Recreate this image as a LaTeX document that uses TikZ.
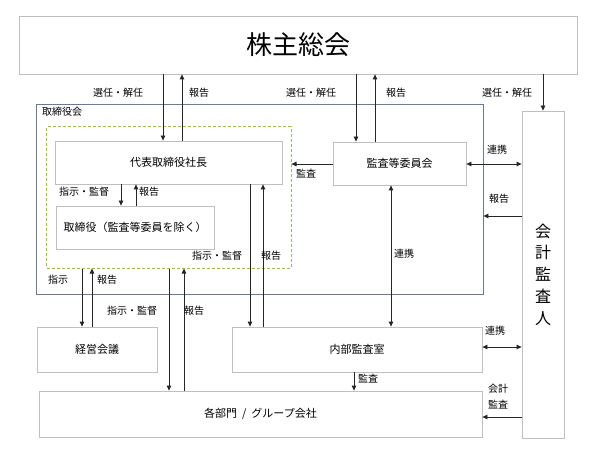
\documentclass[tikz,border=0pt]{standalone}
\usepackage{fontspec}
\setmainfont{Noto Sans CJK JP}
\usetikzlibrary{arrows.meta}
\definecolor{boxgray}{HTML}{BFBFBF}
\definecolor{slate}{HTML}{6B7B8C}
\definecolor{dgreen}{HTML}{9BBB59}
\begin{document}
\begin{tikzpicture}[x=1bp,y=-1bp,
  box/.style={draw=boxgray, line width=0.8bp, fill=white, inner sep=0pt, font=\fontsize{11bp}{13bp}\selectfont},
  lbl/.style={inner sep=0pt, font=\fontsize{10bp}{12bp}\selectfont},
  arr/.style={draw=black!85, line width=0.8bp, -{Triangle[length=5bp,width=4.5bp]}},
  darr/.style={draw=black!85, line width=0.8bp, {Triangle[length=5bp,width=4.5bp]}-{Triangle[length=5bp,width=4.5bp]}},
  ln/.style={draw=black!85, line width=0.8bp}]
\useasboundingbox (0,0) rectangle (597,461);
\fill[white] (0,0) rectangle (597,461);

% boxes
\node[box, minimum width=558bp, minimum height=58bp, font=\fontsize{26bp}{30bp}\selectfont] (top) at (298,45) {株主総会};
\node[draw=slate, line width=0.8bp, inner sep=0pt, minimum width=447bp, minimum height=190bp] (board) at (259.5,199) {};
\node[lbl, anchor=west] (boardlbl) at (42,112) {取締役会};
\node[draw=dgreen, dashed, dash pattern=on 3bp off 2bp, line width=1bp, inner sep=0pt, minimum width=244bp, minimum height=141bp] (grp) at (169,197.5) {};
\node[box, minimum width=227bp, minimum height=43bp] (ceo) at (168.5,162.5) {代表取締役社長};
\node[box, minimum width=158bp, minimum height=43bp] (dir) at (135,227.5) {取締役（監査等委員を除く）};
\node[box, minimum width=133bp, minimum height=43bp] (ac) at (399.5,163.5) {監査等委員会};
\node[box, minimum width=42bp, minimum height=327bp, font=\fontsize{16bp}{21.7bp}\selectfont, align=center] (aud) at (543,274.5) {会\\計\\監\\査\\人};
\node[box, minimum width=120bp, minimum height=45bp] (mgmt) at (97,349.5) {経営会議};
\node[box, minimum width=250bp, minimum height=45bp] (ia) at (357,349.5) {内部監査室};
\node[box, minimum width=443bp, minimum height=46bp] (dept) at (260.5,414) {各部門\hspace{5bp}/\hspace{5bp}グループ会社};

% connectors from top
\draw[arr] (top.south -| 163,0) -- (ceo.north -| 163,0);
\draw[arr] (ceo.north -| 182,0) -- (top.south -| 182,0);
\draw[arr] (top.south -| 356,0) -- (ac.north -| 356,0);
\draw[arr] (ac.north -| 375,0) -- (top.south -| 375,0);
\draw[arr] (top.south -| 543,0) -- (aud.north -| 543,0);

% CEO <-> directors
\draw[arr] (ceo.south -| 121,0) -- (dir.north -| 121,0);
\draw[arr] (dir.north -| 136,0) -- (ceo.south -| 136,0);

% audit committee
\draw[arr] (ac.west |- 0,164) -- (grp.east |- 0,164);
\draw[darr] (ac.east |- 0,164) -- (aud.west |- 0,164);
\draw[arr] (aud.west |- 0,216) -- (board.east |- 0,216);
\draw[darr] (ac.south -| 391,0) -- (ia.north -| 391,0);

% CEO <-> internal audit
\draw[arr] (ceo.south -| 250,0) -- (ia.north -| 250,0);
\draw[arr] (ia.north -| 263,0) -- (ceo.south -| 263,0);

% group <-> management meeting
\draw[arr] (grp.south -| 82,0) -- (mgmt.north -| 82,0);
\draw[arr] (mgmt.north -| 92,0) -- (grp.south -| 92,0);

% group <-> departments
\draw[arr] (grp.south -| 169,0) -- (dept.north -| 169,0);
\draw[arr] (dept.north -| 184,0) -- (grp.south -| 184,0);

% internal audit
\draw[darr] (ia.east |- 0,347) -- (aud.west |- 0,347);
\draw[arr] (ia.south -| 354,0) -- (dept.north -| 354,0);
\draw[arr] (aud.west |- 0,417) -- (dept.east |- 0,417);

% labels
\node[lbl] (l1) at (118,93) {選任・解任};
\node[lbl] (l2) at (199,93) {報告};
\node[lbl] (l3) at (311,93) {選任・解任};
\node[lbl] (l4) at (396,93) {報告};
\node[lbl] (l5) at (507,93) {選任・解任};
\node[lbl] (l6) at (84,192) {指示・監督};
\node[lbl] (l7) at (149,192) {報告};
\node[lbl] (l8) at (217,256) {指示・監督};
\node[lbl] (l9) at (271,256) {報告};
\node[lbl] (l10) at (306,174) {監査};
\node[lbl] (l11) at (497,150) {連携};
\node[lbl] (l12) at (499,199) {報告};
\node[lbl] (l13) at (404,254) {連携};
\node[lbl] (l14) at (58,280) {指示};
\node[lbl] (l15) at (107,280) {報告};
\node[lbl] (l16) at (132,311) {指示・監督};
\node[lbl] (l17) at (194,311) {報告};
\node[lbl] (l18) at (495,331) {連携};
\node[lbl] (l19) at (368,379) {監査};
\node[lbl, align=center, font=\fontsize{10bp}{16bp}\selectfont] (l20) at (498,397) {会計\\監査};
\end{tikzpicture}
\end{document}
